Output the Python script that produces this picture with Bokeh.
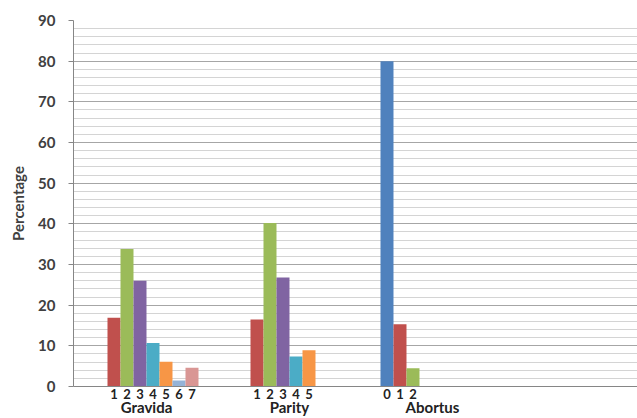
from bokeh.plotting import figure
from bokeh.models import (Range1d, FixedTicker, SingleIntervalTicker,
                          LinearAxis, ColumnDataSource)
from bokeh.embed import file_html
from bokeh.resources import INLINE

# Obstetric history, percentage of respondents per count
groups = ["Gravida", "Parity", "Abortus"]
gravida_counts = [1, 2, 3, 4, 5, 6, 7]
gravida_pct = [16.9, 33.8, 26.0, 10.7, 6.1, 1.5, 4.6]
parity_counts = [1, 2, 3, 4, 5]
parity_pct = [16.5, 40.2, 26.8, 7.4, 8.9]
abortus_counts = [0, 1, 2]
abortus_pct = [80.0, 15.3, 4.5]

# one colour per count value (series 0..7)
PALETTE = ["#4F81BD", "#C0504D", "#9BBB59", "#8064A2",
           "#4BACC6", "#F79646", "#95B3D7", "#D99694"]

SLOTS_PER_GROUP = 11   # each group holds 8 series slots plus gaps
FIRST_SLOT = 2         # centre of series 0 inside a group

xs, tops, colors, labels = [], [], [], {}
for gi, (counts, pcts) in enumerate([(gravida_counts, gravida_pct),
                                      (parity_counts, parity_pct),
                                      (abortus_counts, abortus_pct)]):
    for c, v in zip(counts, pcts):
        x = gi * SLOTS_PER_GROUP + FIRST_SLOT + c
        xs.append(x)
        tops.append(v)
        colors.append(PALETTE[c])
        labels[x] = str(c)

group_centers = [gi * SLOTS_PER_GROUP + SLOTS_PER_GROUP / 2 for gi in range(len(groups))]
group_labels = {c: name for c, name in zip(group_centers, groups)}

src = ColumnDataSource(dict(x=xs, top=tops, color=colors))

FONT = "Lato"
TXT = "#404040"

p = figure(width=637, height=418,
           x_range=Range1d(-0.115, 43.27), y_range=Range1d(0, 90),
           min_border_left=73, min_border_right=0, min_border_top=20,
           min_border_bottom=32,
           output_backend="svg", toolbar_location=None)
p.outline_line_color = None
p.background_fill_color = "white"

p.vbar(x="x", top="top", bottom=0, width=1.0, fill_color="color",
       line_color=None, source=src)

# y axis with major gridlines every 10 and minor every 2
p.yaxis.ticker = SingleIntervalTicker(interval=10, num_minor_ticks=5)
p.yaxis.axis_label = "Percentage"
p.yaxis.axis_label_text_font = FONT
p.yaxis.axis_label_text_font_style = "bold"
p.yaxis.axis_label_text_font_size = "15px"
p.yaxis.axis_label_text_color = TXT
p.yaxis.axis_label_standoff = 8
p.yaxis.major_label_text_font = FONT
p.yaxis.major_label_text_font_style = "bold"
p.yaxis.major_label_text_font_size = "15px"
p.yaxis.major_label_text_color = TXT
p.yaxis.major_label_standoff = 13
p.yaxis.major_tick_out = 5
p.yaxis.major_tick_in = 0
p.yaxis.minor_tick_line_color = None
p.yaxis.axis_line_color = "#868686"
p.yaxis.major_tick_line_color = "#868686"

p.ygrid.grid_line_color = "#A6A6A6"
p.ygrid.grid_line_width = 1.2
p.ygrid.minor_grid_line_color = "#D4D4D4"
p.ygrid.minor_grid_line_width = 1.2
p.xgrid.grid_line_color = None

# x axis: one count label under each bar
p.xaxis.ticker = FixedTicker(ticks=xs)
p.xaxis.major_label_overrides = labels
p.xaxis.major_label_text_font = FONT
p.xaxis.major_label_text_font_style = "bold"
p.xaxis.major_label_text_font_size = "13px"
p.xaxis.major_label_text_color = "#222222"
p.xaxis.major_label_standoff = 2
p.xaxis.major_tick_out = 0
p.xaxis.major_tick_in = 0
p.xaxis.major_tick_line_color = None
p.xaxis.minor_tick_line_color = None
p.xaxis.axis_line_color = "#868686"

# second row: group names centred under each cluster
gaxis = LinearAxis(ticker=FixedTicker(ticks=group_centers),
                   major_label_overrides=group_labels,
                   major_label_text_font=FONT,
                   major_label_text_font_style="bold",
                   major_label_text_font_size="15px",
                   major_label_text_color="#222222",
                   major_label_standoff=-4,
                   major_tick_out=0,
                   major_tick_in=0,
                   axis_line_color=None,
                   major_tick_line_color=None,
                   minor_tick_line_color=None)
p.add_layout(gaxis, "below")

open("out.html", "w").write(file_html(p, INLINE))
